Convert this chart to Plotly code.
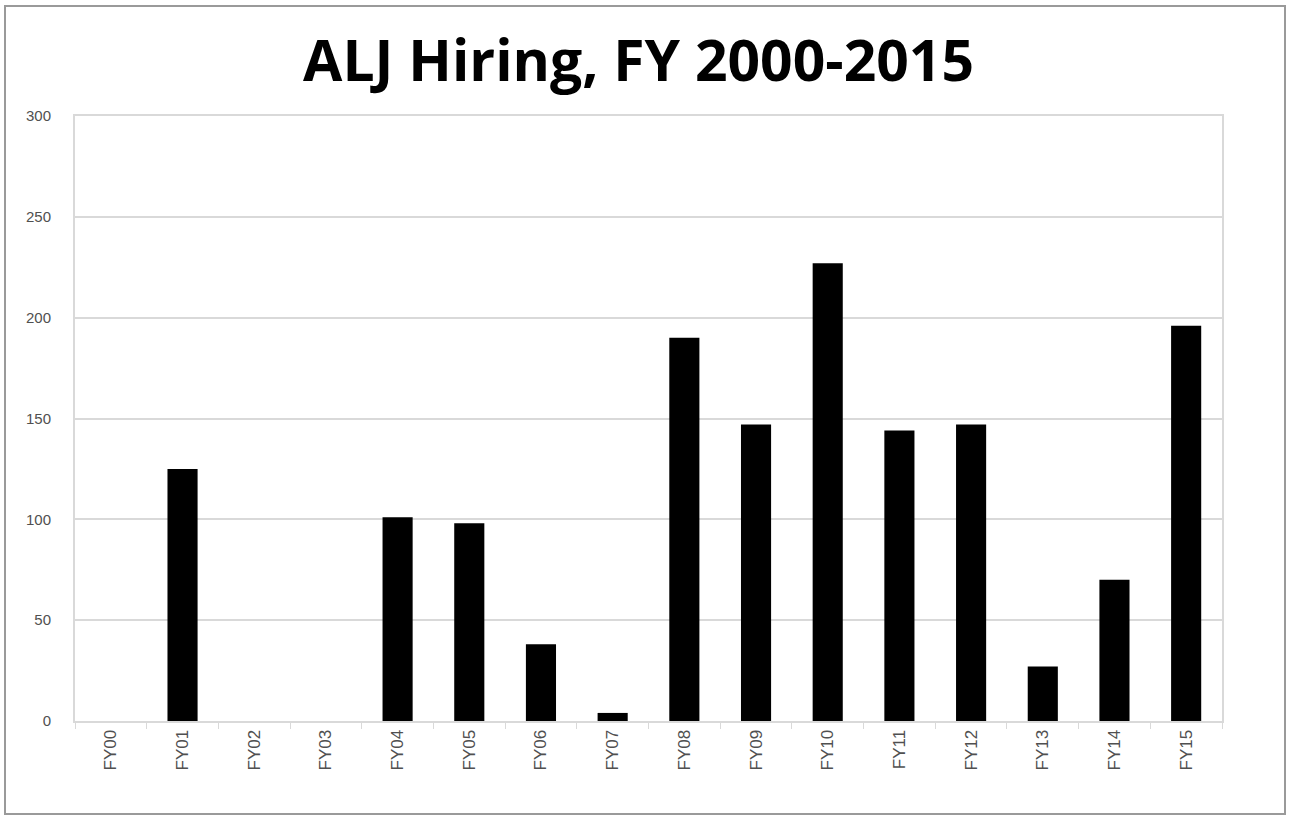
import plotly.graph_objects as go

categories = ["FY00", "FY01", "FY02", "FY03", "FY04", "FY05", "FY06", "FY07",
              "FY08", "FY09", "FY10", "FY11", "FY12", "FY13", "FY14", "FY15"]
hires = [0, 125, 0, 0, 101, 98, 38, 4, 190, 147, 227, 144, 147, 27, 70, 196]
y_ticks = [0, 50, 100, 150, 200, 250, 300]

W, H = 1290, 820
L, R, T, B = 75, 68, 116, 99
pw, ph = W - L - R, H - T - B

fig = go.Figure(go.Bar(
    x=categories, y=hires,
    marker=dict(color="black", line=dict(width=0)),
))

def px_to_paper_x(px):
    return (px - L) / pw

def px_to_paper_y(py):
    return (H - B - py) / ph

fig.add_shape(type="rect", xref="paper", yref="paper",
              x0=px_to_paper_x(5), x1=px_to_paper_x(1285),
              y0=px_to_paper_y(814), y1=px_to_paper_y(6),
              line=dict(color="#9a9a9a", width=2), layer="below")

fig.update_layout(
    width=W, height=H,
    margin=dict(l=L, r=R, t=T, b=B),
    paper_bgcolor="white", plot_bgcolor="white",
    bargap=0.58,
    showlegend=False,
    title=dict(text="<b>ALJ Hiring, FY 2000-2015</b>", x=0.495, xanchor="center",
               y=1 - 61 / H, yanchor="middle",
               font=dict(family="Open Sans, Lato, sans-serif", size=57, color="black")),
    font=dict(family="Liberation Sans, Arial, sans-serif", color="#595959"),
)
fig.update_xaxes(
    type="category", tickangle=-90, tickfont=dict(size=17, color="#505050"),
    showline=True, linecolor="#d9d9d9", linewidth=2, mirror=True,
    ticks="outside", tickson="boundaries", ticklen=6, tickcolor="#d9d9d9",
    showgrid=False, ticklabelstandoff=0,
)
fig.update_yaxes(
    range=[0, 300], tickvals=y_ticks, tickfont=dict(size=15, color="#505050"),
    showgrid=True, gridcolor="#d9d9d9", gridwidth=1.5,
    showline=True, linecolor="#d9d9d9", linewidth=2, mirror=True,
    zeroline=False, ticks="", ticklabelstandoff=19,
)

fig.write_html("out.html", config={"displayModeBar": False},
               post_script="document.body.style.margin='0';")
